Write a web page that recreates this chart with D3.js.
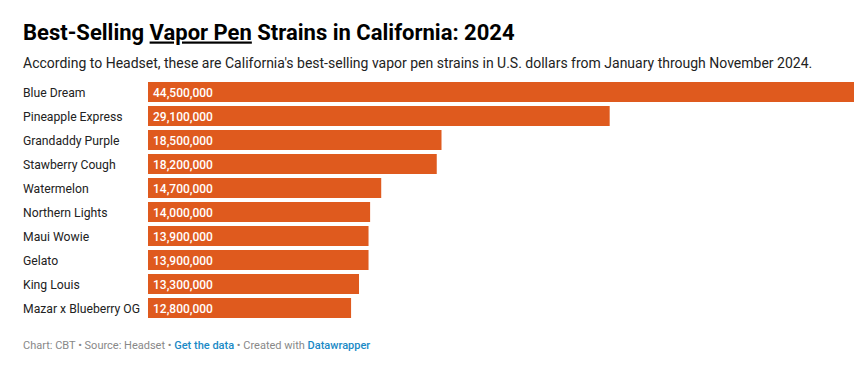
<!DOCTYPE html>
<html><head><meta charset="utf-8">
<script src="https://cdn.jsdelivr.net/npm/d3@7"></script>
<style>
body{margin:0;background:#fff;}
svg{display:block;font-family:Roboto,sans-serif;}
</style></head><body>
<svg id="c" width="855" height="370"></svg>
<script>
const strains = ["Blue Dream","Pineapple Express","Grandaddy Purple","Stawberry Cough","Watermelon","Northern Lights","Maui Wowie","Gelato","King Louis","Mazar x Blueberry OG"];
const sales = [44500000,29100000,18500000,18200000,14700000,14000000,13900000,13900000,13300000,12800000];

const svg = d3.select("#c");
const barColor = "#df5a1e";

// Title with underlined phrase
const title = svg.append("text").attr("x",23).attr("y",39.5)
  .attr("font-size",22).attr("font-weight",700).attr("fill","#000");
title.append("tspan").text("Best-Selling ");
title.append("tspan").text("Vapor Pen").attr("text-decoration","underline");
title.append("tspan").text(" Strains in California: 2024");

svg.append("text").attr("x",23).attr("y",68)
  .attr("font-size",14).attr("fill","#222")
  .text("According to Headset, these are California's best-selling vapor pen strains in U.S. dollars from January through November 2024.");

const x = d3.scaleLinear().domain([0, d3.max(sales)]).range([148, 854]);
const y = d3.scaleBand().domain(strains).range([80, 320]).paddingInner(1/6).paddingOuter(1/12);

const rows = svg.append("g").selectAll("g").data(strains).join("g");
rows.append("rect")
  .attr("x", x(0))
  .attr("y", d => y(d))
  .attr("width", (d,i) => x(sales[i]) - x(0))
  .attr("height", y.bandwidth())
  .attr("fill", barColor);
rows.append("text")
  .attr("x", 23)
  .attr("y", d => y(d) + y.bandwidth()/2 + 4.5)
  .attr("font-size",12.2).attr("fill","#222")
  .text(d => d);
rows.append("text")
  .attr("x", x(0) + 5)
  .attr("y", d => y(d) + y.bandwidth()/2 + 4.5)
  .attr("font-size",12).attr("font-weight",500).attr("fill","#fff")
  .text((d,i) => d3.format(",")(sales[i]));

const foot = svg.append("text").attr("x",23).attr("y",349).attr("font-size",11).attr("fill","#888");
foot.append("tspan").text("Chart: CBT • Source: Headset • ");
foot.append("tspan").text("Get the data").attr("fill","#1a8ac6").attr("font-weight",500);
foot.append("tspan").text(" • Created with ");
foot.append("tspan").text("Datawrapper").attr("fill","#1a8ac6").attr("font-weight",500);
</script>
</body></html>
